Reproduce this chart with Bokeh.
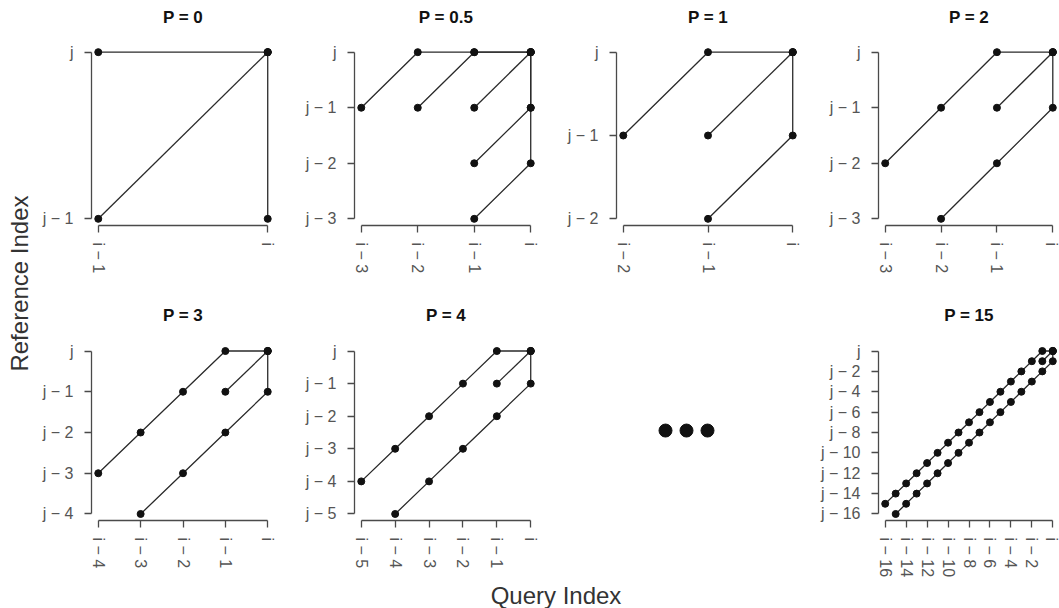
import math
from bokeh.plotting import figure
from bokeh.layouts import row, column
from bokeh.models import Range1d, FixedTicker
from bokeh.embed import file_html
from bokeh.resources import INLINE

FONT = "Liberation Sans"

# ---------------- data ----------------
titles_top = ["P = 0", "P = 0.5", "P = 1", "P = 2"]
titles_bottom = ["P = 3", "P = 4", "", "P = 15"]

# step-pattern paths: query offset (x, from i) and reference offset (y, from j)
p0_xs = [[-1, 0], [-1, 0], [0, 0]]
p0_ys = [[0, 0], [-1, 0], [-1, 0]]

p05_xs = [[-1, 0, 0, 0], [-1, 0, 0], [-1, 0], [-2, -1, 0], [-3, -2, -1, 0]]
p05_ys = [[-3, -2, -1, 0], [-2, -1, 0], [-1, 0], [-1, 0, 0], [-1, 0, 0, 0]]

p1_xs = [[-1, 0, 0], [-1, 0], [-2, -1, 0]]
p1_ys = [[-2, -1, 0], [-1, 0], [-1, 0, 0]]

p2_xs = [[-2, -1, 0, 0], [-1, 0], [-3, -2, -1, 0]]
p2_ys = [[-3, -2, -1, 0], [-1, 0], [-2, -1, 0, 0]]

p3_xs = [[-3, -2, -1, 0, 0], [-1, 0], [-4, -3, -2, -1, 0]]
p3_ys = [[-4, -3, -2, -1, 0], [-1, 0], [-3, -2, -1, 0, 0]]

p4_xs = [[-4, -3, -2, -1, 0, 0], [-1, 0], [-5, -4, -3, -2, -1, 0]]
p4_ys = [[-5, -4, -3, -2, -1, 0], [-1, 0], [-4, -3, -2, -1, 0, 0]]

p15_xs = [[-15, -14, -13, -12, -11, -10, -9, -8, -7, -6, -5, -4, -3, -2, -1, 0, 0],
          [-1, 0],
          [-16, -15, -14, -13, -12, -11, -10, -9, -8, -7, -6, -5, -4, -3, -2, -1, 0]]
p15_ys = [[-16, -15, -14, -13, -12, -11, -10, -9, -8, -7, -6, -5, -4, -3, -2, -1, 0],
          [-1, 0],
          [-15, -14, -13, -12, -11, -10, -9, -8, -7, -6, -5, -4, -3, -2, -1, 0, 0]]

# tick positions and labels
xt_p0 = [-1, 0]
xl_p0 = ["i − 1", "i"]
yt_p0 = [-1, 0]
yl_p0 = ["j − 1", "j"]

xt_p05 = [-3, -2, -1, 0]
xl_p05 = ["i − 3", "i − 2", "i − 1", "i"]
yt_p05 = [-3, -2, -1, 0]
yl_p05 = ["j − 3", "j − 2", "j − 1", "j"]

xt_p1 = [-2, -1, 0]
xl_p1 = ["i − 2", "i − 1", "i"]
yt_p1 = [-2, -1, 0]
yl_p1 = ["j − 2", "j − 1", "j"]

xt_p2 = [-3, -2, -1, 0]
xl_p2 = ["i − 3", "i − 2", "i − 1", "i"]
yt_p2 = [-3, -2, -1, 0]
yl_p2 = ["j − 3", "j − 2", "j − 1", "j"]

xt_p3 = [-4, -3, -2, -1, 0]
xl_p3 = ["i − 4", "i − 3", "i − 2", "i − 1", "i"]
yt_p3 = [-4, -3, -2, -1, 0]
yl_p3 = ["j − 4", "j − 3", "j − 2", "j − 1", "j"]

xt_p4 = [-5, -4, -3, -2, -1, 0]
xl_p4 = ["i − 5", "i − 4", "i − 3", "i − 2", "i − 1", "i"]
yt_p4 = [-5, -4, -3, -2, -1, 0]
yl_p4 = ["j − 5", "j − 4", "j − 3", "j − 2", "j − 1", "j"]

xt_p15 = [-16, -14, -12, -10, -8, -6, -4, -2, 0]
xl_p15 = ["i − 16", "i − 14", "i − 12", "i − 10", "i − 8", "i − 6", "i − 4", "i − 2", "i"]
yt_p15 = [-16, -14, -12, -10, -8, -6, -4, -2, 0]
yl_p15 = ["j − 16", "j − 14", "j − 12", "j − 10", "j − 8", "j − 6", "j − 4", "j − 2", "j"]

# ellipsis marker ("• • •") positions
ellipsis_x = [-1, 0, 1]
ellipsis_y = [0, 0, 0]

x_label = "Query Index"
y_label = "Reference Index"

# ---------------- layout constants (pixels) ----------------
FW = [183, 183, 183, 181]         # frame width per column
FH = 180                          # frame height
LABEL_W = 34                      # strip holding the y-axis title
COL_LEFT = [57, 62, 62, 62]       # left border per column
COL_RIGHT = [18, 17, 17, 0]       # right border per column
ROW_TOP = [15, 14]                # border above frame
ROW_BOTTOM = [73, 56]             # border below frame
TITLE_H = [30, 32]                # title strip heights
TITLE_MID = [13.2, 15]            # title centre above strip bottom
QL_H = 28
TOTAL_H = TITLE_H[0] + ROW_TOP[0] + FH + ROW_BOTTOM[0] + TITLE_H[1] + ROW_TOP[1] + FH + ROW_BOTTOM[1] + QL_H

AX_COL = "#4a4a4a"
TICK_COL = "#555555"
TEXT_COL = "#333333"


def blank(width, height, xr, yr):
    f = figure(width=width, height=height, x_range=Range1d(*xr), y_range=Range1d(*yr),
               output_backend="svg", toolbar_location=None, min_border=0)
    f.axis.visible = False
    f.grid.visible = False
    f.outline_line_color = None
    return f


def style_axes(p):
    for ax in (p.xaxis[0], p.yaxis[0]):
        ax.axis_line_color = AX_COL
        ax.axis_line_width = 1.3
        ax.major_tick_line_color = AX_COL
        ax.major_tick_line_width = 1.3
        ax.major_tick_out = 7
        ax.major_tick_in = 0
        ax.minor_tick_out = 0
        ax.minor_tick_in = 0
        ax.major_label_text_font = FONT
        ax.major_label_text_font_size = "16px"
        ax.major_label_text_color = TICK_COL
    p.xaxis[0].major_label_standoff = 10
    p.yaxis[0].major_label_standoff = 11
    p.xaxis[0].major_label_orientation = "vertical"


def make_panel(xs, ys, xt, xl, yt, yl, r, c):
    left, right = COL_LEFT[c], COL_RIGHT[c]
    top, bottom = ROW_TOP[r], ROW_BOTTOM[r]
    xlo, xhi = min(xt), max(xt)
    ylo, yhi = min(yt), max(yt)
    xpad = 0.04 * (xhi - xlo)
    ypad = 0.04 * (yhi - ylo)
    p = figure(width=left + FW[c] + right, height=top + FH + bottom,
               x_range=Range1d(xlo - xpad, xhi + xpad),
               y_range=Range1d(ylo - ypad, yhi + ypad),
               output_backend="svg", toolbar_location=None,
               min_border_left=left, min_border_right=right,
               min_border_top=top, min_border_bottom=bottom)
    p.grid.visible = False
    p.outline_line_color = None
    p.xaxis[0].ticker = FixedTicker(ticks=xt, minor_ticks=[])
    p.yaxis[0].ticker = FixedTicker(ticks=yt, minor_ticks=[])
    p.xaxis[0].major_label_overrides = {t: s for t, s in zip(xt, xl)}
    p.yaxis[0].major_label_overrides = {t: s for t, s in zip(yt, yl)}
    p.xaxis[0].bounds = (xlo, xhi)
    p.yaxis[0].bounds = (ylo, yhi)
    style_axes(p)
    p.multi_line(xs, ys, line_color="#2a2a2a", line_width=1.3)
    px = [v for path in xs for v in path]
    py = [v for path in ys for v in path]
    p.scatter(px, py, size=7, color="#111111")
    return p


# frame centres (relative to the start of the panel area) for the titles
col_widths = [COL_LEFT[k] + FW[k] + COL_RIGHT[k] for k in range(4)]
col_starts = [sum(col_widths[:k]) for k in range(4)]
frame_centres = [col_starts[k] + COL_LEFT[k] + FW[k] / 2 for k in range(4)]
area_w = sum(col_widths)


def title_strip(r, texts):
    f = blank(area_w, TITLE_H[r], (0, area_w), (0, TITLE_H[r]))
    xs = [x for x, t in zip(frame_centres, texts) if t]
    ts = [t for t in texts if t]
    f.text(x=xs, y=[TITLE_MID[r]] * len(ts), text=ts,
           text_align="center", text_baseline="middle",
           text_font={"value": FONT}, text_font_size="17px",
           text_font_style="bold", text_color="#111111")
    return f


top_panels = [
    make_panel(p0_xs, p0_ys, xt_p0, xl_p0, yt_p0, yl_p0, 0, 0),
    make_panel(p05_xs, p05_ys, xt_p05, xl_p05, yt_p05, yl_p05, 0, 1),
    make_panel(p1_xs, p1_ys, xt_p1, xl_p1, yt_p1, yl_p1, 0, 2),
    make_panel(p2_xs, p2_ys, xt_p2, xl_p2, yt_p2, yl_p2, 0, 3),
]

# ellipsis cell
dot_step = 21.0
e = figure(width=col_widths[2], height=ROW_TOP[1] + FH + ROW_BOTTOM[1],
           x_range=Range1d(-70 / dot_step, (FW[2] - 70) / dot_step),
           y_range=Range1d(-92 / dot_step, (FH - 92) / dot_step),
           output_backend="svg", toolbar_location=None,
           min_border_left=COL_LEFT[2], min_border_right=COL_RIGHT[2],
           min_border_top=ROW_TOP[1], min_border_bottom=ROW_BOTTOM[1])
e.axis.visible = False
e.grid.visible = False
e.outline_line_color = None
e.scatter(ellipsis_x, ellipsis_y, size=13, color="#111111")

bottom_panels = [
    make_panel(p3_xs, p3_ys, xt_p3, xl_p3, yt_p3, yl_p3, 1, 0),
    make_panel(p4_xs, p4_ys, xt_p4, xl_p4, yt_p4, yl_p4, 1, 1),
    e,
    make_panel(p15_xs, p15_ys, xt_p15, xl_p15, yt_p15, yl_p15, 1, 3),
]

# left axis-title strip
yl_fig = blank(LABEL_W, TOTAL_H, (0, LABEL_W), (0, TOTAL_H))
yl_fig.text(x=[19], y=[TOTAL_H - 283], text=[y_label], angle=math.pi / 2,
            text_align="center", text_baseline="middle",
            text_font_size="24px", text_color=TEXT_COL, text_font={"value": FONT})

# bottom axis-title strip
xl_fig = blank(area_w, QL_H, (0, area_w), (0, QL_H))
xl_fig.text(x=[555.5 - LABEL_W], y=[TOTAL_H - 594.5], text=[x_label],
            text_align="center", text_baseline="middle",
            text_font_size="24px", text_color=TEXT_COL, text_font={"value": FONT})

layout = row(
    yl_fig,
    column(
        title_strip(0, titles_top),
        row(*top_panels),
        title_strip(1, titles_bottom),
        row(*bottom_panels),
        xl_fig,
    ),
)

with open("out.html", "w") as f:
    f.write(file_html(layout, INLINE))
